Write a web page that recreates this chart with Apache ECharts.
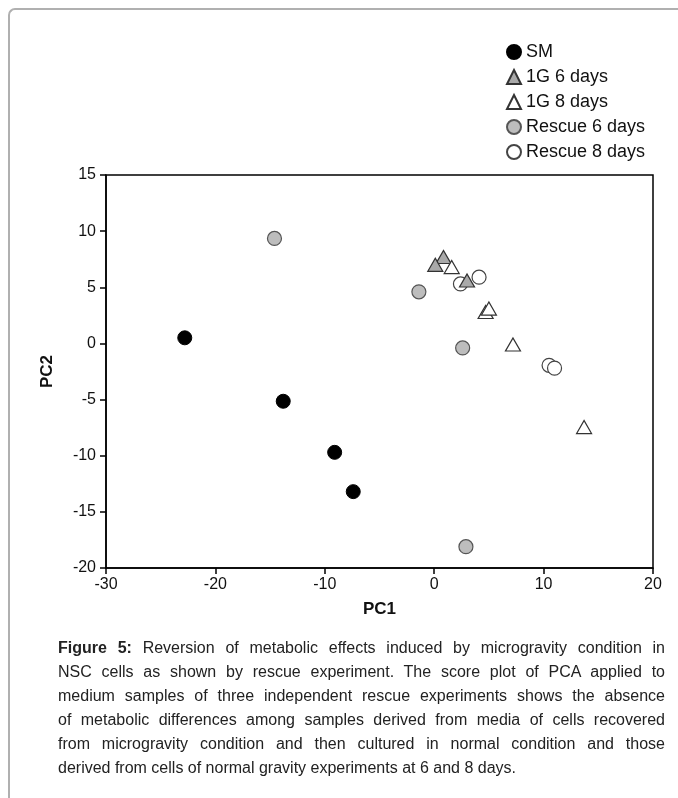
<!DOCTYPE html>
<html>
<head>
<meta charset="utf-8">
<script src="https://cdn.jsdelivr.net/npm/echarts@6/dist/echarts.min.js"></script>
<style>
html,body{margin:0;padding:0;background:#fff;}
#wrap{position:relative;width:678px;height:798px;overflow:hidden;font-family:"Liberation Sans",Arial,sans-serif;}
#frame{position:absolute;left:8px;top:8px;width:700px;height:800px;border-top:2px solid #b0b0b0;border-left:2px solid #b0b0b0;border-top-left-radius:7px;box-sizing:border-box;}
#chart{position:absolute;left:0;top:0;width:678px;height:640px;}
#caption{position:absolute;left:58px;top:636px;width:607px;font-size:16px;line-height:24px;color:#222;}
#caption div{text-align:justify;text-align-last:justify;white-space:nowrap;}
#caption div.last{text-align-last:left;}
</style>
</head>
<body>
<div id="wrap">
<div id="frame"></div>
<div id="chart"></div>
<div id="caption">
<div><b>Figure 5:</b> Reversion of metabolic effects induced by microgravity condition in</div>
<div>NSC cells as shown by rescue experiment. The score plot of PCA applied to</div>
<div>medium samples of three independent rescue experiments shows the absence</div>
<div>of metabolic differences among samples derived from media of cells recovered</div>
<div>from microgravity condition and then cultured in normal condition and those</div>
<div class="last">derived from cells of normal gravity experiments at 6 and 8 days.</div>
</div>
</div>
<script>
// Data (PC1, PC2)
const seriesNames = ['SM', '1G 6 days', '1G 8 days', 'Rescue 6 days', 'Rescue 8 days'];
const smPoints = [[-22.8, 0.5], [-13.8, -5.15], [-9.1, -9.7], [-7.4, -13.2]];
const g1Day6Points = [[0.85, 7.7], [0.1, 7.0], [3.0, 5.6]];
const g1Day8Points = [[1.6, 6.8], [4.7, 2.8], [5.0, 3.1], [7.2, -0.1], [13.7, -7.45]];
const rescueDay6Points = [[-14.6, 9.35], [-1.4, 4.6], [2.6, -0.4], [2.9, -18.1]];
const rescueDay8Points = [[2.4, 5.3], [4.1, 5.9], [10.5, -1.95], [11.0, -2.2]];
const xTicks = [-30, -20, -10, 0, 10, 20];
const yTicks = [-20, -15, -10, -5, 0, 5, 10, 15];

const chart = echarts.init(document.getElementById('chart'), null, {renderer: 'canvas'});
const font = '"Liberation Sans", Arial, sans-serif';
function mk(name, data, symbol, size, fill, border, bw, z) {
  return {
    name: name, type: 'scatter', data: data, symbol: symbol, symbolSize: size, z: z,
    itemStyle: {color: fill, borderColor: border, borderWidth: bw, opacity: 1},
    emphasis: {disabled: true}
  };
}
chart.setOption({
  animation: false,
  textStyle: {fontFamily: font},
  grid: {left: 106, top: 175, width: 547, height: 393, show: true, borderColor: '#000', borderWidth: 1.5, backgroundColor: 'transparent'},
  legend: {
    orient: 'vertical', left: 506, top: 43, padding: 0, itemWidth: 14, itemHeight: 14, itemGap: 7,
    textStyle: {fontSize: 18, color: '#111', fontFamily: font},
    data: [
      {name: seriesNames[0], icon: 'circle'},
      {name: seriesNames[1], icon: 'triangle'},
      {name: seriesNames[2], icon: 'triangle'},
      {name: seriesNames[3], icon: 'circle'},
      {name: seriesNames[4], icon: 'circle'}
    ]
  },
  xAxis: {
    type: 'value', min: xTicks[0], max: xTicks[xTicks.length - 1], interval: 10,
    name: 'PC1', nameLocation: 'middle', nameGap: 33,
    nameTextStyle: {fontSize: 17, fontWeight: 'bold', color: '#111'},
    axisLine: {show: true, onZero: false, lineStyle: {color: '#000', width: 1.5}},
    axisTick: {show: true, length: 6, lineStyle: {color: '#000', width: 1.5}},
    axisLabel: {fontSize: 16, color: '#111', margin: 9},
    splitLine: {show: false}
  },
  yAxis: {
    type: 'value', min: yTicks[0], max: yTicks[yTicks.length - 1], interval: 5,
    name: 'PC2', nameLocation: 'middle', nameGap: 50, nameRotate: 90,
    nameTextStyle: {fontSize: 17, fontWeight: 'bold', color: '#111'},
    axisLine: {show: true, onZero: false, lineStyle: {color: '#000', width: 1.5}},
    axisTick: {show: true, length: 6, lineStyle: {color: '#000', width: 1.5}},
    axisLabel: {fontSize: 16, color: '#111', margin: 10},
    splitLine: {show: false}
  },
  series: [
    mk(seriesNames[0], smPoints, 'circle', 14, '#000', '#000', 1, 2),
    mk(seriesNames[1], g1Day6Points, 'triangle', [15, 13], '#a9a9a9', '#333', 1.2, 4),
    mk(seriesNames[2], g1Day8Points, 'triangle', [15, 13], '#fff', '#333', 1.2, 5),
    mk(seriesNames[3], rescueDay6Points, 'circle', 14, '#bdbdbd', '#555', 1.2, 2),
    mk(seriesNames[4], rescueDay8Points, 'circle', 14, '#fff', '#444', 1.2, 3)
  ]
});
</script>
</body>
</html>
